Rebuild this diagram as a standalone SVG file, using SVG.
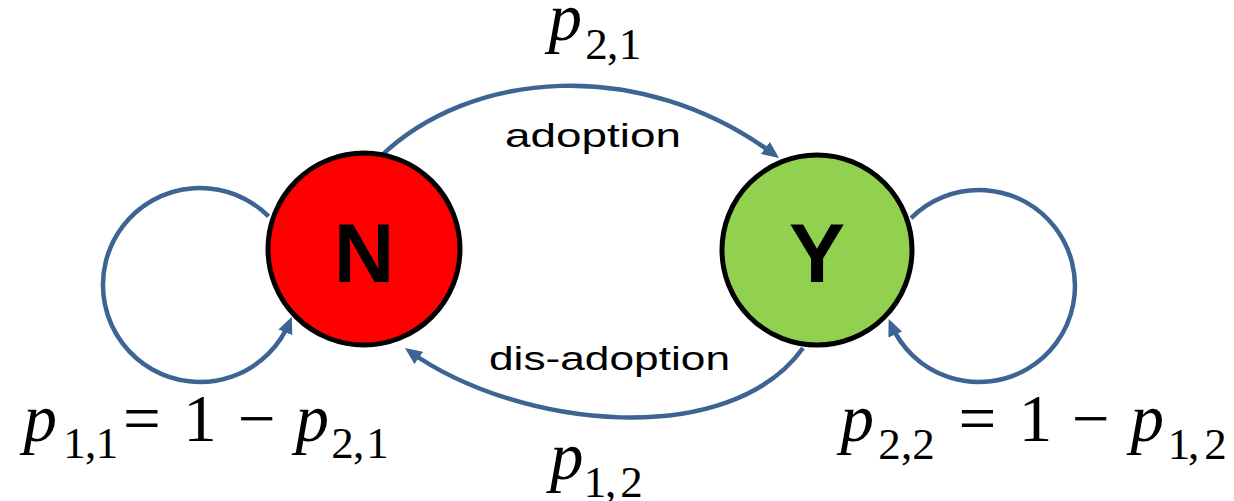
<svg xmlns="http://www.w3.org/2000/svg" width="1234" height="501" viewBox="0 0 1234 501">
<defs>
<marker id="arr" markerUnits="userSpaceOnUse" viewBox="0 0 17 15" markerWidth="17" markerHeight="15" refX="12" refY="7.5" orient="auto">
<path d="M0,0 L17,7.5 L0,15 z" fill="#3E6494"/>
</marker>
</defs>
<g id="connectors" fill="none" stroke="#3E6494" stroke-width="4.5" marker-end="url(#arr)">
<path d="M380,157 C470,70 640,55 775,155"/>
<path d="M803,348 C730,450 520,430 409,351"/>
<path d="M268.6,216.4 A97,97 0 1 0 289.9,321.3"/>
<path d="M911.1,218.1 A96,96 0 1 1 890.6,323.5"/>
</g>
<g id="node-N">
<circle cx="364" cy="249" r="96" fill="#FF0000" stroke="#000" stroke-width="5"/>
<text x="364" y="282" font-family="Liberation Sans" font-weight="bold" font-size="84" text-anchor="middle">N</text>
</g>
<g id="node-Y">
<circle cx="817" cy="250" r="95" fill="#92D050" stroke="#000" stroke-width="5"/>
<text x="817" y="282" font-family="Liberation Sans" font-weight="bold" font-size="84" text-anchor="middle">Y</text>
</g>
<g id="edge-labels">
<text x="505" y="147" font-family="Liberation Sans" font-size="34" textLength="176" lengthAdjust="spacingAndGlyphs">adoption</text>
<text x="489" y="370" font-family="Liberation Sans" font-size="34" textLength="241" lengthAdjust="spacingAndGlyphs">dis-adoption</text>
</g>
<g id="formulas">
<text x="548.4" y="40" font-family="Times New Roman" font-size="67" font-style="italic">p</text>
<text x="585.3 607.1 618.8" y="59" font-family="Times New Roman" font-size="45">2,1</text>
<text x="549.9" y="479" font-family="Times New Roman" font-size="67" font-style="italic">p</text>
<text x="583.8 605.1 620.3" y="497" font-family="Times New Roman" font-size="45">1,2</text>
<text x="23.4" y="441" font-family="Times New Roman" font-size="67" font-style="italic">p</text>
<text x="63.3 85.1 95.8" y="458" font-family="Times New Roman" font-size="45">1,1</text>
<text x="123.1" y="441" font-family="Times New Roman" font-size="67">=</text>
<text x="183.25" y="441" font-family="Times New Roman" font-size="67">1</text>
<text x="238.1" y="441" font-family="Times New Roman" font-size="67">−</text>
<text x="295.4" y="441" font-family="Times New Roman" font-size="67" font-style="italic">p</text>
<text x="331.3 353.1 366.3" y="458" font-family="Times New Roman" font-size="45">2,1</text>
<text x="840.4" y="441" font-family="Times New Roman" font-size="67" font-style="italic">p</text>
<text x="878.3 901.1 912.3" y="459" font-family="Times New Roman" font-size="45">2,2</text>
<text x="958.6" y="441" font-family="Times New Roman" font-size="67">=</text>
<text x="1018.75" y="441" font-family="Times New Roman" font-size="67">1</text>
<text x="1072.1" y="441" font-family="Times New Roman" font-size="67">−</text>
<text x="1130.4" y="441" font-family="Times New Roman" font-size="67" font-style="italic">p</text>
<text x="1167.8 1188.1 1204.3" y="459" font-family="Times New Roman" font-size="45">1,2</text>
</g>
</svg>
